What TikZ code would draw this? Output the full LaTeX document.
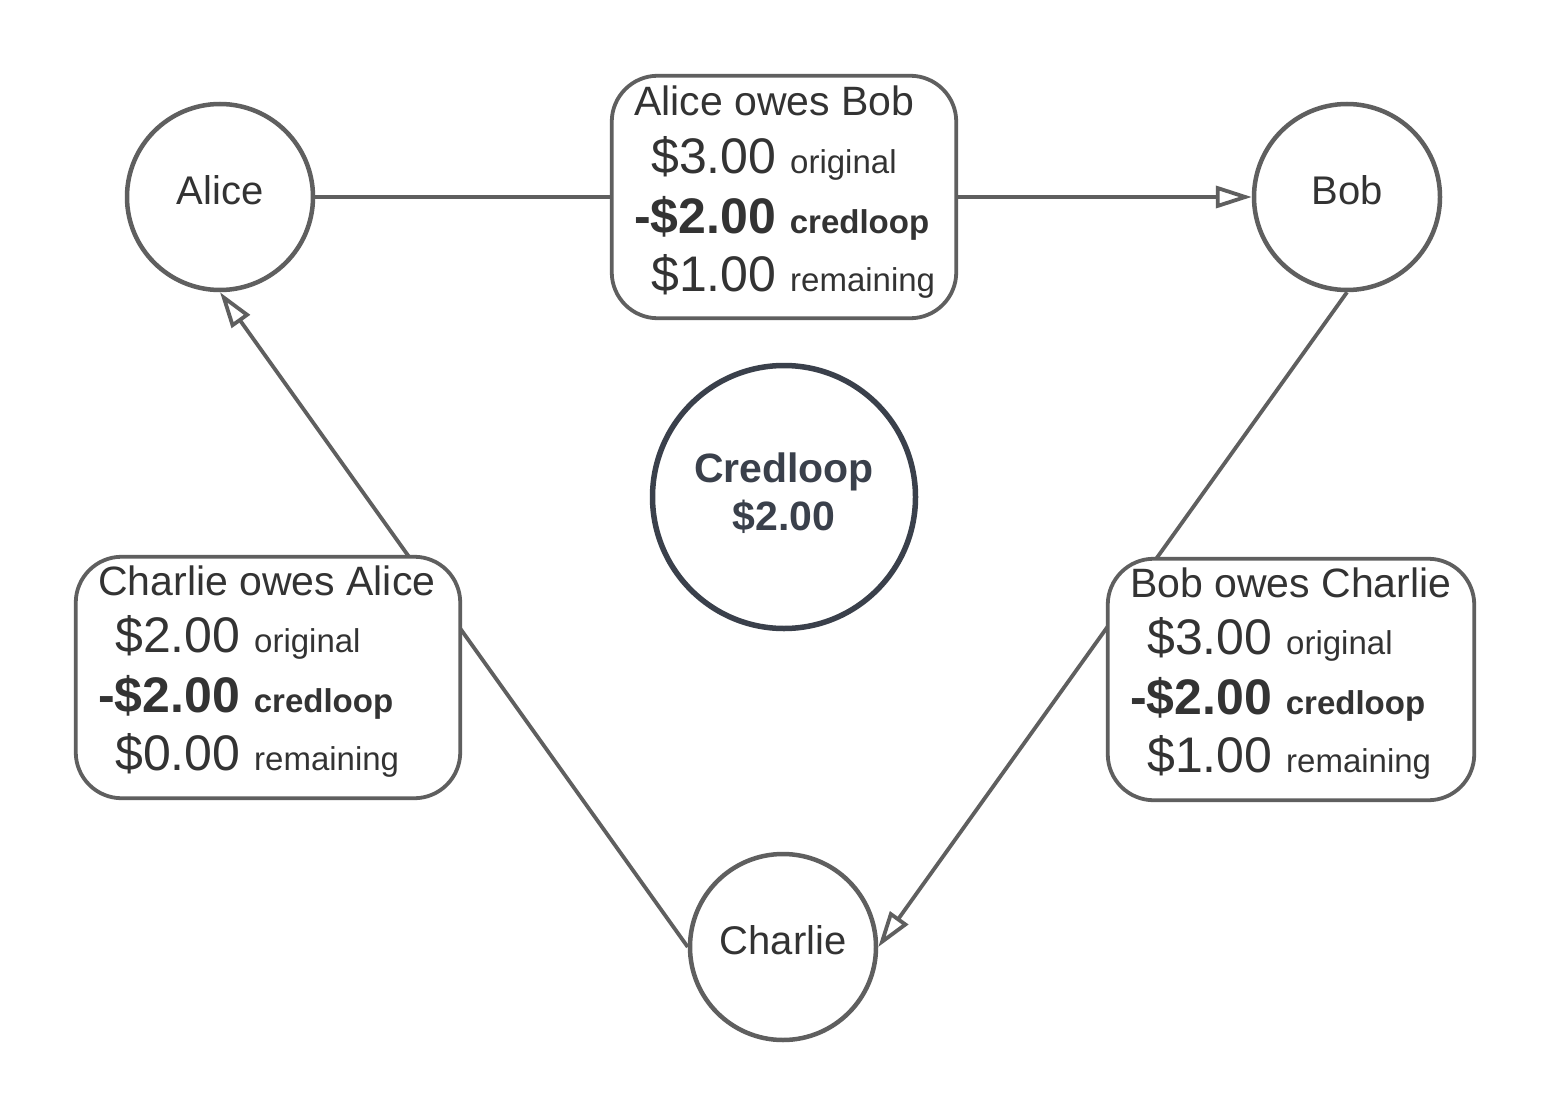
\documentclass[tikz,border=0pt]{standalone}
\usepackage{fontspec}
\setmainfont{Liberation Sans}
\usetikzlibrary{arrows.meta}
\definecolor{edgegray}{HTML}{5F5F5F}
\definecolor{txt}{HTML}{333333}
\definecolor{slate}{HTML}{3A404B}
\newcommand\fsz[2]{\fontsize{#1}{#2}\selectfont}
\begin{document}
\begin{tikzpicture}[x=1pt,y=-1pt,
  person/.style={circle, draw=edgegray, line width=4.5pt, fill=white, minimum size=186pt, inner sep=0pt, text=txt, font=\fsz{40}{48}, text height=29pt, text depth=15pt},
  loopnode/.style={circle, draw=slate, line width=5.5pt, fill=white, minimum size=263pt, inner sep=0pt, text=slate, font=\bfseries\fsz{41}{48}, align=center},
  debt/.style={draw=edgegray, line width=3.8pt, fill=white, rounded corners=46pt, inner sep=0pt},
  arr/.style={draw=edgegray, line width=3.8pt, -{Triangle[open, length=36pt, width=22pt]}},
  head/.style={anchor=base west, inner sep=0pt, text=txt, font=\fsz{41}{48}},
  amt/.style={anchor=base west, inner sep=0pt, text=txt, font=\fsz{50}{58}},
  boldamt/.style={amt, font=\bfseries\fsz{50}{58}}
]
\fill[white] (0,0) rectangle (1553,1116);
\useasboundingbox (0,0) rectangle (1553,1116);

% people
\node[person] (alice) at (220,197) {Alice};
\node[person] (bob) at (1347,197) {Bob};
\node[person] (charlie) at (783,947) {Charlie};
\node[loopnode] (loop) at (784,497) {Credloop\\\$2.00\rule[-10pt]{0pt}{10pt}};

% connectors
\draw[arr] (alice.east) -- (bob.west);
\draw[arr] (bob.south) -- (charlie.east);
\draw[arr] (charlie.west) -- (alice.south);

% Alice owes Bob
\node[debt, minimum width=344.5pt, minimum height=242.5pt] (ab) at (784,197) {};
\node[head] (ab-h) at (634,115) {Alice owes Bob};
\node[amt] (ab-o) at (651,173) {\$3.00 {\fsz{33}{40}original}};
\node[boldamt] (ab-c) at (634,233) {-\$2.00 {\fsz{33}{40}credloop}};
\node[amt] (ab-r) at (651,291) {\$1.00 {\fsz{33}{40}remaining}};

% Charlie owes Alice
\node[debt, minimum width=384.5pt, minimum height=241.5pt] (ca) at (268,677.5) {};
\node[head] (ca-h) at (98,595) {Charlie owes Alice};
\node[amt] (ca-o) at (115,652) {\$2.00 {\fsz{33}{40}original}};
\node[boldamt] (ca-c) at (98,712) {-\$2.00 {\fsz{33}{40}credloop}};
\node[amt] (ca-r) at (115,770) {\$0.00 {\fsz{33}{40}remaining}};

% Bob owes Charlie
\node[debt, minimum width=366.5pt, minimum height=241.5pt] (bc) at (1291,679.5) {};
\node[head] (bc-h) at (1130,597) {Bob owes Charlie};
\node[amt] (bc-o) at (1147,654) {\$3.00 {\fsz{33}{40}original}};
\node[boldamt] (bc-c) at (1130,714) {-\$2.00 {\fsz{33}{40}credloop}};
\node[amt] (bc-r) at (1147,772) {\$1.00 {\fsz{33}{40}remaining}};
\end{tikzpicture}
\end{document}
